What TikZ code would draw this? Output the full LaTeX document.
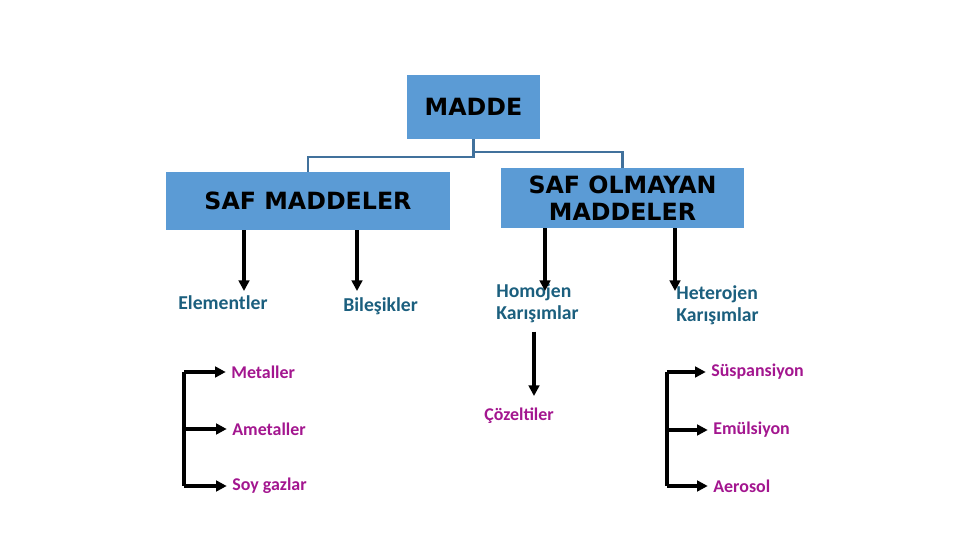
\documentclass[tikz,border=0pt]{standalone}
\usepackage{fontspec}
\setmainfont{Carlito}
\newfontfamily\boxfont{DejaVu Sans}
\usetikzlibrary{arrows.meta,positioning,calc}
\definecolor{BoxBlue}{HTML}{5B9BD5}
\definecolor{LinkBlue}{HTML}{41719C}
\definecolor{Teal}{HTML}{1B5F7E}
\definecolor{Plum}{HTML}{A3168F}

\begin{document}
\begin{tikzpicture}[x=0.02cm,y=-0.02cm,
    box/.style={fill=BoxBlue, inner sep=0pt, align=center,
                font=\boxfont\bfseries\fontsize{13.5}{15.5}\selectfont},
    kind/.style={text=Teal, align=left, anchor=north west, inner sep=0pt,
                 font=\bfseries\fontsize{11.2}{13}\selectfont},
    leaf/.style={text=Plum, anchor=west, inner sep=0pt,
                 font=\bfseries\fontsize{10.2}{11}\selectfont},
    link/.style={LinkBlue, line width=1.2pt},
    arr/.style={line width=1.9pt, -{Triangle[length=6pt,width=6pt]}},
    brk/.style={line width=2.3pt}]

        \useasboundingbox (0,0) rectangle (960,540);

        %% ── boxes ─────────────────────────────

        \node[box, minimum width=133*0.02cm, minimum height=64*0.02cm]
          (madde) at (473.5,107) {MADDE};
        \node[box, minimum width=284*0.02cm, minimum height=58*0.02cm]
          (saf) at (308,201) {SAF MADDELER};
        \node[box, minimum width=243*0.02cm, minimum height=60*0.02cm]
          (safol) at (622.5,198) {SAF OLMAYAN\\MADDELER};

        %% ── tree lines from MADDE ─────────────

        \draw[link] (madde.south) -- ++(0,18) -| (saf.north);
        \draw[link] ($(madde.south)+(0,13)$) -| (safol.north);

        %% ── second level labels ───────────────

        \node[kind, anchor=west] (elem) at (178,303) {Elementler};
        \node[kind, anchor=west] (bilesik) at (343,306) {Bileşikler};
        \node[kind] (homo) at (496,283) {Homojen\\Karışımlar};
        \node[kind] (hetero) at (676,285) {Heterojen\\Karışımlar};

        \coordinate (tipA) at (244,291);
        \coordinate (tipB) at (357,291);
        \coordinate (tipC) at (545,291);
        \coordinate (tipD) at (675,291);
        \draw[arr] (saf.south -| tipA) -- (tipA);
        \draw[arr] (saf.south -| tipB) -- (tipB);
        \draw[arr] (safol.south -| tipC) -- (tipC);
        \draw[arr] (safol.south -| tipD) -- (tipD);

        %% ── Homojen -> Çözeltiler ─────────────

        \node[leaf] (cozelti) at (484,416) {Çözeltiler};
        \coordinate (tipE) at (534,396);
        \draw[arr] (homo.south -| tipE) ++(0,8) -- (tipE);

        %% ── Elementler bracket ────────────────

        \node[leaf] (metal) at (231,372) {Metaller};
        \node[leaf] (ametal) at (232,429) {Ametaller};
        \node[leaf] (soygaz) at (232,486) {Soy gazlar};
        \coordinate (lb) at (184,0);
        \draw[brk] (metal.west -| lb) -- (soygaz.west -| lb);
        \foreach \n in {metal,ametal,soygaz}{
          \draw[arr] (\n.west -| lb) -- ([xshift=-3pt]\n.west);
        }

        %% ── Heterojen bracket ─────────────────

        \node[leaf] (susp) at (711,372) {Süspansiyon};
        \node[leaf] (emul) at (713,430) {Emülsiyon};
        \node[leaf] (aero) at (713,486) {Aerosol};
        \coordinate (rb) at (667,0);
        \draw[brk] (susp.west -| rb) -- (aero.west -| rb);
        \foreach \n in {susp,emul,aero}{
          \draw[arr] (\n.west -| rb) -- ([xshift=-3pt]\n.west);
        }

\end{tikzpicture}
\end{document}
